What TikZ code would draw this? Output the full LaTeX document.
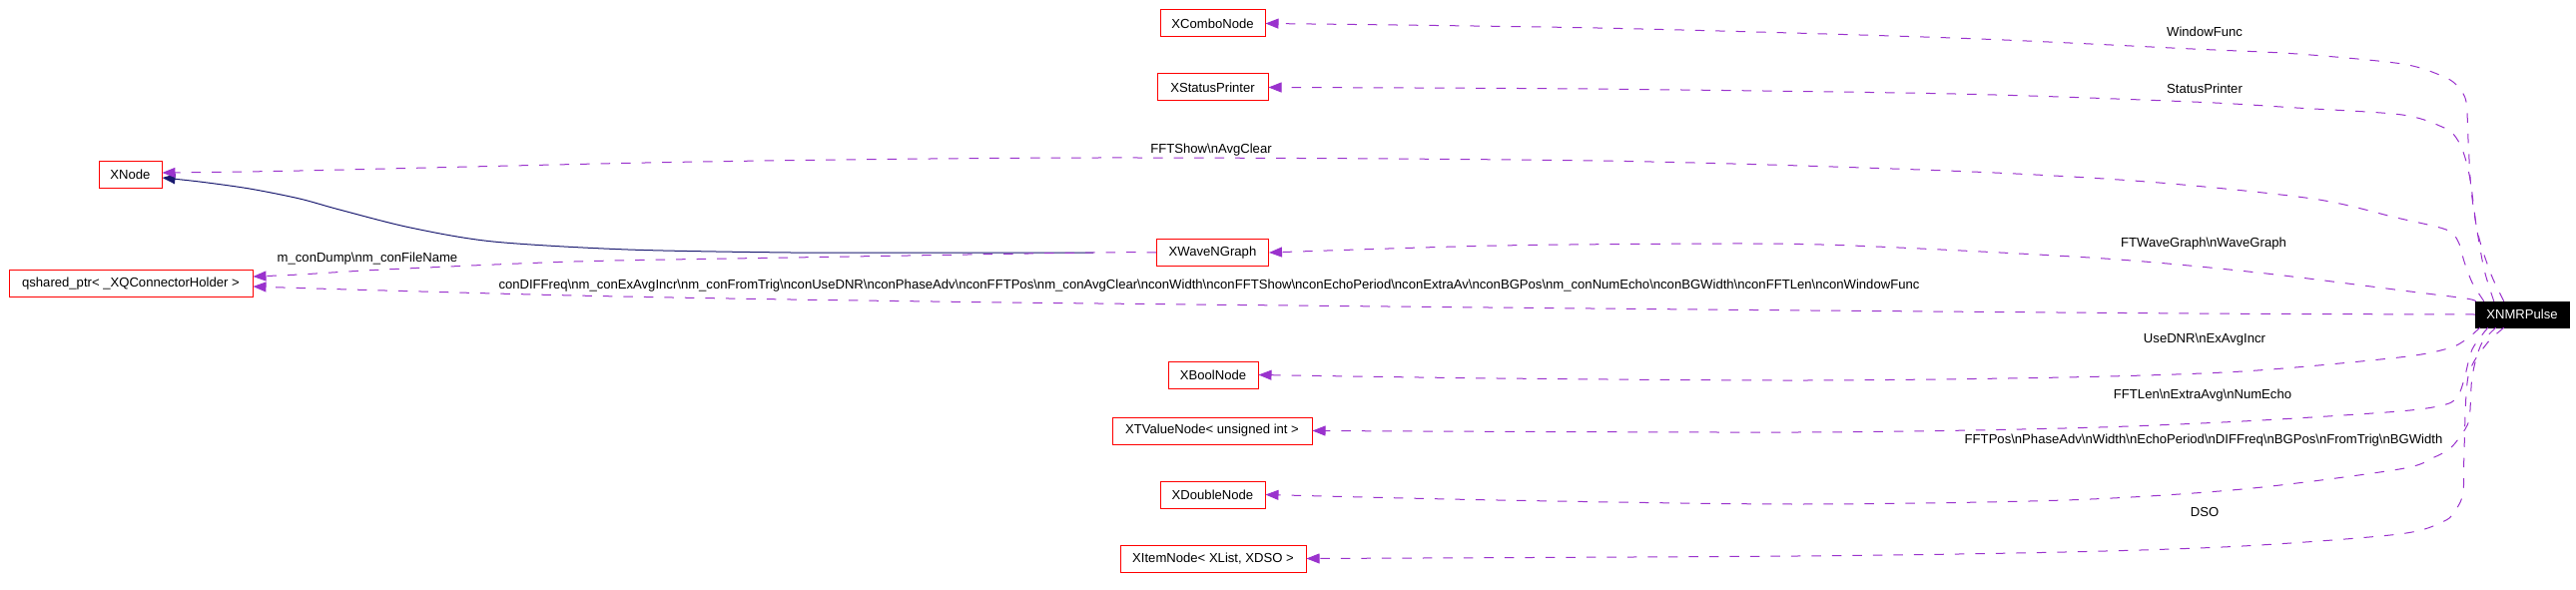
\documentclass[tikz,border=0pt]{standalone}
\usepackage{fontspec}
\setmainfont{Liberation Sans}
\usetikzlibrary{arrows.meta}
\definecolor{edgepurple}{HTML}{9A32CD}
\definecolor{navyedge}{HTML}{191970}
\newcommand{\bsl}{\textbackslash}
\newcommand{\dgfont}{\fontsize{13.1}{15}\selectfont}
\begin{document}
\begin{tikzpicture}[x=1pt,y=-1pt,
  cls/.style={draw=red, line width=1pt, minimum height=27pt, inner sep=0pt, font=\dgfont},
  mainbox/.style={fill=black, draw=black, text=white, minimum height=26pt, inner sep=0pt, font=\dgfont},
  lbl/.style={inner sep=0pt, font=\dgfont},
  dedge/.style={color=edgepurple, line width=1pt, dash pattern=on 9.5pt off 11pt, -{Triangle[length=13pt,width=10pt]}},
  iedge/.style={color=navyedge, line width=1pt, -{Triangle[length=13pt,width=10pt]}}
]
\useasboundingbox[fill=white] (0,0) rectangle (2580,591);

% class nodes
\node[cls, minimum width=105pt] (combo) at (1214.5,23.5) {XComboNode};
\node[cls, minimum width=111pt] (status) at (1214.5,87.5) {XStatusPrinter};
\node[cls, minimum width=63pt] (xnode) at (130.5,174.5) {XNode};
\node[cls, minimum width=244pt] (qshared) at (131,284) {qshared\_ptr< \_XQConnectorHolder >};
\node[cls, minimum width=112pt] (wave) at (1214.5,253) {XWaveNGraph};
\node[mainbox, minimum width=94pt] (pulse) at (2526,315) {XNMRPulse};
\node[cls, minimum width=90pt] (bool) at (1215,375.5) {XBoolNode};
\node[cls, minimum width=200pt] (tvalue) at (1214,431.5) {XTValueNode< unsigned int >};
\node[cls, minimum width=105pt] (double) at (1214.5,495.5) {XDoubleNode};
\node[cls, minimum width=186pt] (item) at (1215,559.5) {XItemNode< XList, XDSO >};

% edge labels
\node[lbl] (lcombo) at (2208,32) {WindowFunc};
\node[lbl] (lstatus) at (2208,89) {StatusPrinter};
\node[lbl] (lxnode) at (1213,150) {FFTShow\bsl nAvgClear};
\node[lbl] (lwave) at (2207,244) {FTWaveGraph\bsl nWaveGraph};
\node[lbl] (ldump) at (368,259) {m\_conDump\bsl nm\_conFileName};
\node[lbl] (lshared) at (1211,286) {conDIFFreq\bsl nm\_conExAvgIncr\bsl nm\_conFromTrig\bsl nconUseDNR\bsl nconPhaseAdv\bsl nconFFTPos\bsl nm\_conAvgClear\bsl nconWidth\bsl nconFFTShow\bsl nconEchoPeriod\bsl nconExtraAv\bsl nconBGPos\bsl nm\_conNumEcho\bsl nconBGWidth\bsl nconFFTLen\bsl nconWindowFunc};
\node[lbl] (lbool) at (2208,340) {UseDNR\bsl nExAvgIncr};
\node[lbl] (ltvalue) at (2206,396) {FFTLen\bsl nExtraAvg\bsl nNumEcho};
\node[lbl] (ldouble) at (2207,441) {FFTPos\bsl nPhaseAdv\bsl nWidth\bsl nEchoPeriod\bsl nDIFFreq\bsl nBGPos\bsl nFromTrig\bsl nBGWidth};
\node[lbl] (litem) at (2208,513) {DSO};

% inheritance edge
\draw[iedge] plot[smooth, tension=0.5] coordinates {([xshift=-63pt]wave.west) (900,253) (792,253) (629,250) (494,242) (411,228) (340,210) (300,199) (250,189) (200,182) ([yshift=-3.5pt]xnode.east)};

% usage edges from XWaveNGraph
\draw[dedge] plot[smooth, tension=0.5] coordinates {(wave.west) (1095,253) (792,258) (575,262) (385,270) (300,275) ([yshift=7pt]qshared.east)};

% usage edges from XNMRPulse (top)
\draw[dedge] plot[smooth, tension=0.5] coordinates {([xshift=29pt]pulse.north west) (2495,275) (2482,235) (2475,190) (2472,140) (2470,102) (2462,87) (2448,77) (2406,64) (2301,54) (2196,49) (1956,38) (1600,28) (combo.east)};
\draw[dedge] plot[smooth, tension=0.5] coordinates {([xshift=19pt]pulse.north west) (2488,270) (2480,225) (2474,180) (2468,155) (2460,138) (2448,128) (2406,115) (2300,108) (2196,102) (1958,94) (1590,89) (status.east)};
\draw[dedge] plot[smooth, tension=0.5] coordinates {([xshift=9pt]pulse.north west) (2476,283) (2468,262) (2462,242) (2450,230) (2400,218) (2316,199) (2150,182) (1950,171) (1600,161) (1100,158) (700,162) (300,171) ([yshift=1.5pt]xnode.east)};
\draw[dedge] plot[smooth, tension=0.5] coordinates {([xshift=1pt]pulse.north west) (2470,299) (2414,292) (2261,273) (2108,259) (1879,247) (1750,244) (1500,246) (wave.east)};
\draw[dedge] plot[smooth, tension=0.5] coordinates {(pulse.west) (2200,314) (1700,310) (1100,304) (792,300) (575,296) (350,290) ([yshift=-3pt]qshared.east)};

% usage edges from XNMRPulse (bottom)
\draw[dedge] plot[smooth, tension=0.5] coordinates {([xshift=5pt]pulse.south west) (2470,340) (2452,349) (2403,358) (2246,372) (2068,378) (1809,381) (1500,379) (bool.east)};
\draw[dedge] plot[smooth, tension=0.5] coordinates {([xshift=13pt]pulse.south west) (2476,350) (2468,380) (2462,396) (2450,405) (2403,412) (2246,422) (2068,429) (1800,433) (tvalue.east)};
\draw[dedge] plot[smooth, tension=0.5] coordinates {([xshift=21pt]pulse.south west) (2485,345) (2476,377) (2473,420) (2464,437) (2454,449) (2438,458) (2403,470) (2246,490) (2068,501) (1800,505) (1500,501) (double.east)};
\draw[dedge] plot[smooth, tension=0.5] coordinates {([xshift=29pt]pulse.south west) (2490,345) (2472,377) (2468,450) (2467,493) (2460,510) (2448,522) (2403,535) (2246,547) (2068,553) (1800,557) (item.east)};
\end{tikzpicture}
\end{document}
